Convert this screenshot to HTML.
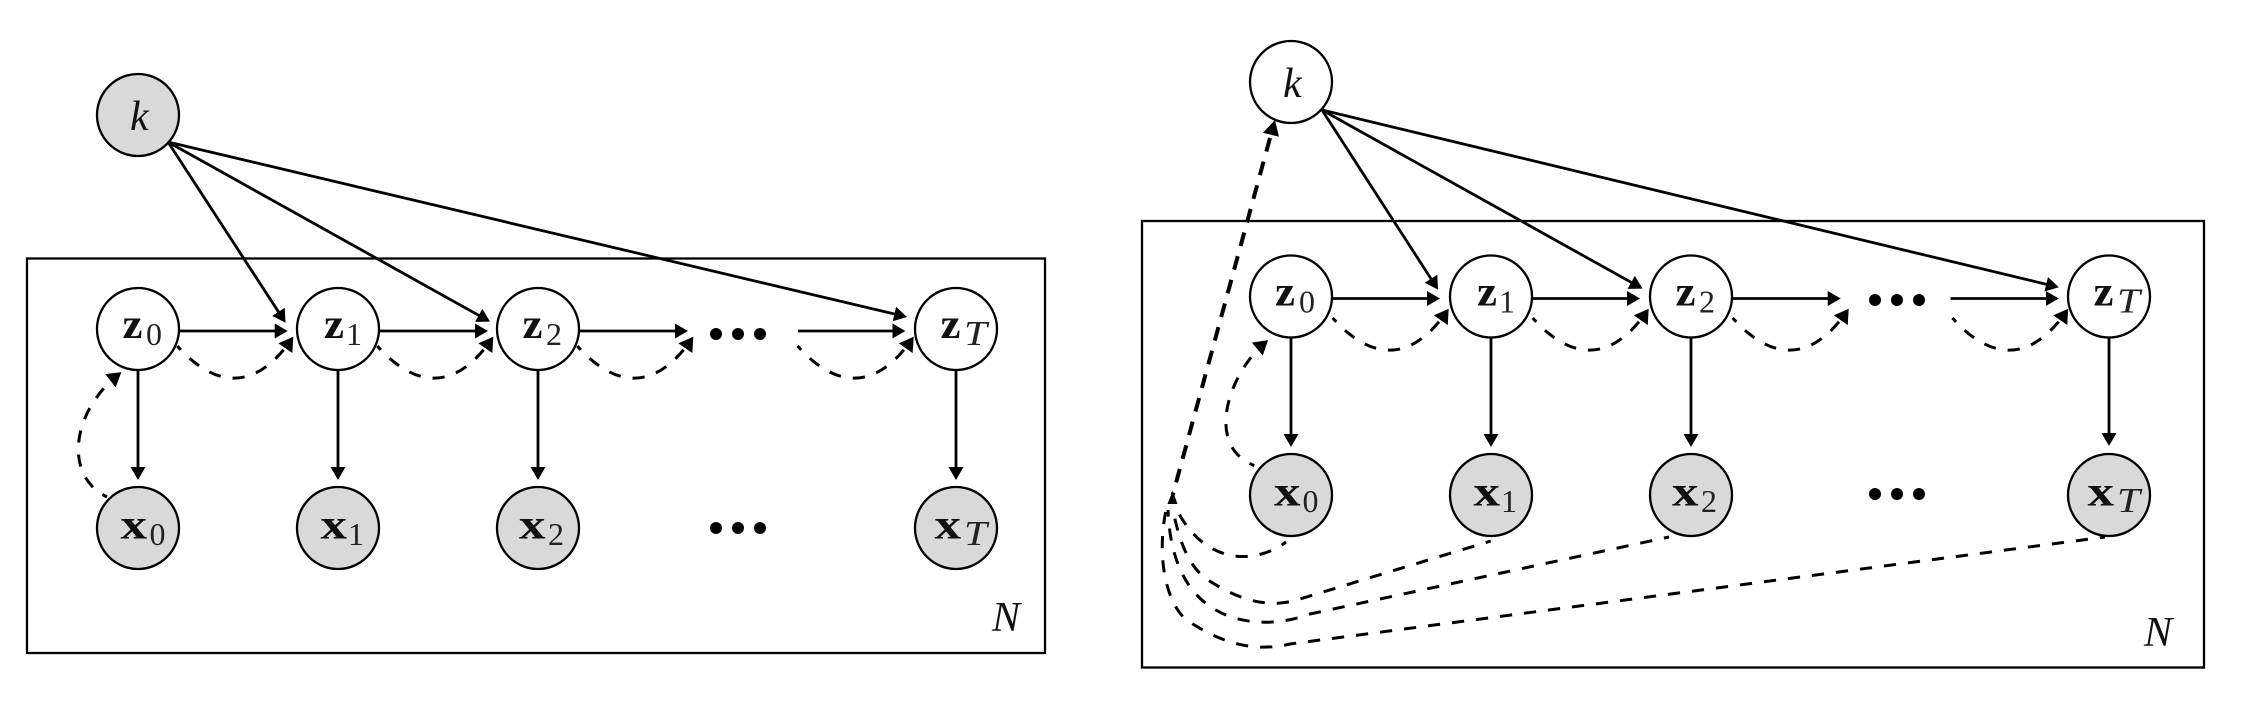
<!DOCTYPE html>
<html>
<head>
<meta charset="utf-8">
<style>
html,body{margin:0;padding:0;background:#fff;}
svg{display:block;}
.n{stroke:#000;stroke-width:2.3;}
.w{fill:#fff;}
.g{fill:#d9d9d9;}
.l{fill:none;stroke:#000;stroke-width:2.8;marker-end:url(#ah);}
.d{fill:none;stroke:#000;stroke-width:3;stroke-dasharray:12.2 12;stroke-dashoffset:7;}
.a{marker-end:url(#ad);}
.b{font:bold 42px "Liberation Serif",serif;fill:#111;}
.s{font:32px "Liberation Serif",serif;fill:#222;}
.t{font:italic 35px "Liberation Serif",serif;fill:#222;}
.i{font:italic 42px "Liberation Serif",serif;fill:#111;}
</style>
</head>
<body>
<svg xmlns="http://www.w3.org/2000/svg" width="2246" height="720" viewBox="0 0 2246 720">
<defs>
<marker id="ah" markerUnits="userSpaceOnUse" markerWidth="18" markerHeight="18" refX="10" refY="8" orient="auto" viewBox="0 0 18 18">
<polygon points="0,0.5 13,8 0,15.5" fill="#000"/>
</marker>
<marker id="ad" markerUnits="userSpaceOnUse" markerWidth="20" markerHeight="20" refX="11" refY="9" orient="auto" viewBox="0 0 20 20">
<polygon points="0,0.5 14,9 0,17.5" fill="#000"/>
</marker>
</defs>
<rect width="2246" height="720" fill="#fff"/>

<!-- LEFT -->
<rect x="27" y="258.5" width="1018" height="394.5" fill="none" stroke="#000" stroke-width="2.3"/>
<path class="l" d="M168 142L283.9 320.2"/>
<path class="l" d="M168 142L487.4 320.2"/>
<path class="l" d="M168 142L904.1 316.3"/>
<path class="l" d="M179 331H284.7"/>
<path class="l" d="M379 331H485"/>
<path class="l" d="M579 331H685"/>
<path class="l" d="M798 331H902.4"/>
<path class="l" d="M138 370V477"/>
<path class="l" d="M338 370V477"/>
<path class="l" d="M538 370V477"/>
<path class="l" d="M956 370V477"/>
<path class="d a" d="M177.3 346C215 388 255 392 291.6 339.2"/>
<path class="d a" d="M377.3 346C415 388 455 392 491.6 339.2"/>
<path class="d a" d="M577.3 346C615 388 655 392 691.6 339.2"/>
<path class="d a" d="M797.6 346C835 388 875 392 912 339.2"/>
<path class="d a" d="M107 497C62 475 73 410 119 374"/>
<circle class="n g" cx="138" cy="115" r="41"/>
<circle class="n w" cx="138" cy="329" r="41"/>
<circle class="n w" cx="338" cy="329" r="41"/>
<circle class="n w" cx="538" cy="329" r="41"/>
<circle class="n w" cx="956" cy="329" r="41"/>
<circle class="n g" cx="138" cy="528" r="41"/>
<circle class="n g" cx="338" cy="528" r="41"/>
<circle class="n g" cx="538" cy="528" r="41"/>
<circle class="n g" cx="956" cy="528" r="41"/>
<circle cx="716" cy="334" r="6"/><circle cx="738" cy="334" r="6"/><circle cx="760" cy="334" r="6"/>
<circle cx="716" cy="528" r="6"/><circle cx="738" cy="528" r="6"/><circle cx="760" cy="528" r="6"/>
<text class="i" x="130" y="130">k</text>
<text class="b" x="122.5" y="338" textLength="20" lengthAdjust="spacingAndGlyphs">z</text><text class="s" x="146" y="345">0</text>
<text class="b" x="324" y="338" textLength="20" lengthAdjust="spacingAndGlyphs">z</text><text class="s" x="346" y="345">1</text>
<text class="b" x="522.5" y="338" textLength="20" lengthAdjust="spacingAndGlyphs">z</text><text class="s" x="546" y="345">2</text>
<text class="b" x="940.5" y="338" textLength="20" lengthAdjust="spacingAndGlyphs">z</text><text class="t" x="964" y="345" textLength="23" lengthAdjust="spacingAndGlyphs">T</text>
<text class="b" x="120.5" y="538.5" textLength="26.5" lengthAdjust="spacingAndGlyphs">x</text><text class="s" x="149.5" y="545">0</text>
<text class="b" x="320.5" y="538.5" textLength="26.5" lengthAdjust="spacingAndGlyphs">x</text><text class="s" x="348" y="545">1</text>
<text class="b" x="519" y="538.5" textLength="26.5" lengthAdjust="spacingAndGlyphs">x</text><text class="s" x="548" y="545">2</text>
<text class="b" x="934.5" y="538.5" textLength="26.5" lengthAdjust="spacingAndGlyphs">x</text><text class="t" x="964" y="545" textLength="23" lengthAdjust="spacingAndGlyphs">T</text>
<text class="i" x="992" y="631">N</text>

<!-- RIGHT -->
<rect x="1142" y="221" width="1062" height="446.5" fill="none" stroke="#000" stroke-width="2.3"/>
<path class="l" d="M1322 110L1436.4 287.1"/>
<path class="l" d="M1322 110L1639.9 287.2"/>
<path class="l" d="M1322 110L2055.9 286.6"/>
<path class="l" d="M1332 298.5H1437"/>
<path class="l" d="M1532 298.5H1637"/>
<path class="l" d="M1732 298.5H1837.7"/>
<path class="l" d="M1950.6 298.5H2055.8"/>
<path class="l" d="M1291 338V444"/>
<path class="l" d="M1491 338V444"/>
<path class="l" d="M1691 338V444"/>
<path class="l" d="M2109 338V443"/>
<path class="d a" d="M1332.7 318C1370.4 360 1410.4 364 1447 311.2"/>
<path class="d a" d="M1532.7 318C1570.4 360 1610.4 364 1647 311.2"/>
<path class="d a" d="M1732.7 318C1770.4 360 1810.4 364 1847 311.2"/>
<path class="d a" d="M1952.4 318C1990 360 2030 364 2066.5 311.2"/>
<path class="d a" d="M1254.3 465.6C1203 445 1230 372 1265.7 342"/>
<path d="M1270 138L1172.7 495" fill="none" stroke="#000" stroke-width="4" stroke-dasharray="14 10.5"/>
<polygon points="1275,120 1263,132.7 1279,136.7" fill="#000"/>
<polygon points="1172.7,490.7 1167.5,504 1177.5,504" fill="#000"/>
<path class="d" d="M1286 542C1255 565 1205 565 1177 510"/>
<path class="d" d="M1490.7 541L1300 599C1270 609 1240 601 1208 580C1190 568 1180 545 1173 510"/>
<path class="d" d="M1669 537L1310 614C1275 627 1235 625 1208 605C1190 592 1170 565 1168 510"/>
<path class="d" d="M2105 537L1290 644C1265 650 1230 650 1187 620C1170 608 1155 565 1166 510"/>
<circle class="n w" cx="1291" cy="82" r="41"/>
<circle class="n w" cx="1291" cy="296.5" r="41"/>
<circle class="n w" cx="1491" cy="296.5" r="41"/>
<circle class="n w" cx="1691" cy="296.5" r="41"/>
<circle class="n w" cx="2109" cy="296.5" r="41"/>
<circle class="n g" cx="1291" cy="495" r="41"/>
<circle class="n g" cx="1491" cy="495" r="41"/>
<circle class="n g" cx="1691" cy="495" r="41"/>
<circle class="n g" cx="2109" cy="495" r="41"/>
<circle cx="1875" cy="300" r="6"/><circle cx="1897" cy="300" r="6"/><circle cx="1919" cy="300" r="6"/>
<circle cx="1875" cy="494" r="6"/><circle cx="1897" cy="494" r="6"/><circle cx="1919" cy="494" r="6"/>
<text class="i" x="1283" y="97">k</text>
<text class="b" x="1275" y="305.5" textLength="20" lengthAdjust="spacingAndGlyphs">z</text><text class="s" x="1299" y="312.5">0</text>
<text class="b" x="1477" y="305.5" textLength="20" lengthAdjust="spacingAndGlyphs">z</text><text class="s" x="1499" y="312.5">1</text>
<text class="b" x="1675.5" y="305.5" textLength="20" lengthAdjust="spacingAndGlyphs">z</text><text class="s" x="1699" y="312.5">2</text>
<text class="b" x="2093.5" y="305.5" textLength="20" lengthAdjust="spacingAndGlyphs">z</text><text class="t" x="2117" y="312.5" textLength="23" lengthAdjust="spacingAndGlyphs">T</text>
<text class="b" x="1274" y="505.5" textLength="26.5" lengthAdjust="spacingAndGlyphs">x</text><text class="s" x="1302.5" y="512">0</text>
<text class="b" x="1473.5" y="505.5" textLength="26.5" lengthAdjust="spacingAndGlyphs">x</text><text class="s" x="1501" y="512">1</text>
<text class="b" x="1672" y="505.5" textLength="26.5" lengthAdjust="spacingAndGlyphs">x</text><text class="s" x="1701" y="512">2</text>
<text class="b" x="2087.5" y="505.5" textLength="26.5" lengthAdjust="spacingAndGlyphs">x</text><text class="t" x="2117" y="512" textLength="23" lengthAdjust="spacingAndGlyphs">T</text>
<text class="i" x="2144" y="646">N</text>
</svg>
</body>
</html>
